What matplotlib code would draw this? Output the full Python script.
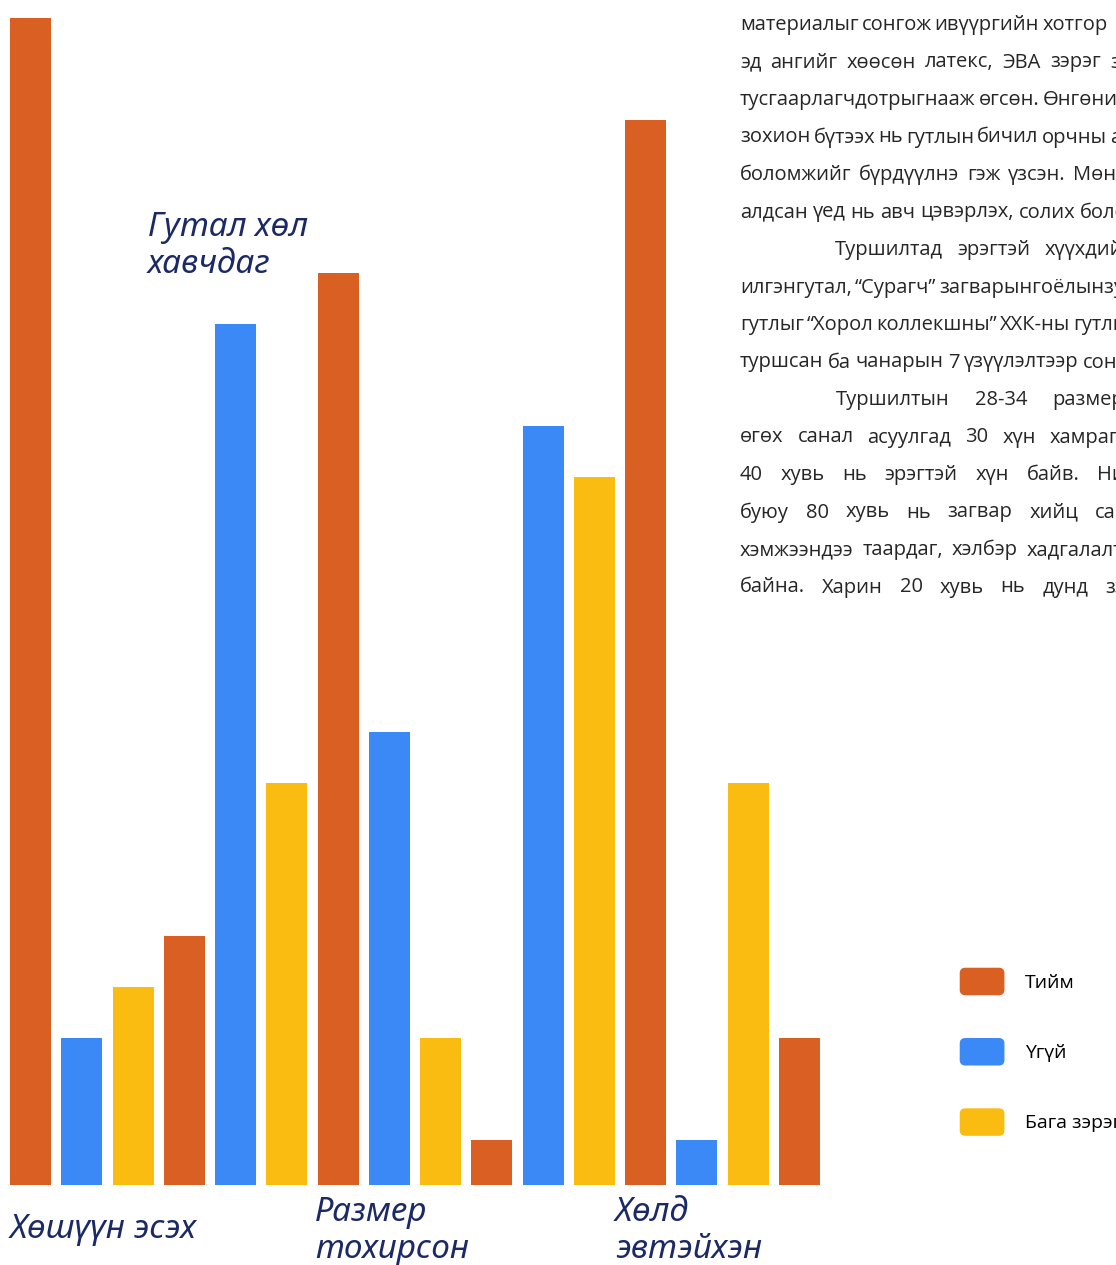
import numpy as np
import matplotlib.pyplot as plt
import matplotlib.transforms as mtransforms
from matplotlib.patches import Patch, FancyBboxPatch
from matplotlib.legend_handler import HandlerPatch

# survey answers, 30 people per question (last group cut off in the scan)
categories = ['Хөшүүн эсэх', 'Гутал хөл\nхавчдаг', 'Размер\nтохирсон', '', 'Хөлд\nэвтэйхэн', '']
tiim = [23, 5, 18, 1, 21, 3]
ugui = [3, 17, 9, 15, 1]
baga = [4, 8, 3, 14, 8]
legend_labels = ['Тийм', 'Үгүй', 'Бага зэрэг']

# body text of the page: words, left x, start x of the last word (pixels)
body_lines = [
    (['материалыг', 'сонгож', 'ивүүргийн', 'хотгор'], 740, 1033),
    (['эд', 'ангийг', 'хөөсөн', 'латекс,', 'ЭВА', 'зэрэг', 'зөөлөн'], 740, 1110),
    (['тусгаарлагчдотрыгнааж', 'өгсөн.', 'Өнгөний'], 740, 943),
    (['зохион', 'бүтээх', 'нь', 'гутлын', 'бичил', 'орчны', 'агаар'], 740, 1110),
    (['боломжийг', 'бүрдүүлнэ', 'гэж', 'үзсэн.', 'Мөн'], 740, 1073),
    (['алдсан', 'үед', 'нь', 'авч', 'цэвэрлэх,', 'солих', 'боломжтой.'], 740, 1080),
    (['Туршилтад', 'эрэгтэй', 'хүүхдийн'], 835, 1045),
    (['илгэнгутал,', '“Сурагч”', 'загварынгоёлынзуны'], 740, 933),
    (['гутлыг', '“Хорол', 'коллекшны”', 'ХХК-ны', 'гутлын'], 740, 1053),
    (['туршсан', 'ба', 'чанарын', '7', 'үзүүлэлтээр', 'сонгосон'], 740, 1083),
    (['Туршилтын', '28-34', 'размерийн'], 836, 1052),
    (['өгөх', 'санал', 'асуулгад', '30', 'хүн', 'хамрагдсан'], 740, 1050),
    (['40', 'хувь', 'нь', 'эрэгтэй', 'хүн', 'байв.', 'Нийт'], 740, 1097),
    (['буюу', '80', 'хувь', 'нь', 'загвар', 'хийц', 'сайн'], 740, 1095),
    (['хэмжээндээ', 'таардаг,', 'хэлбэр', 'хадгалалт'], 740, 1027),
    (['байна.', 'Харин', '20', 'хувь', 'нь', 'дунд', 'зэрэг'], 740, 1105),
]

orange = '#D95F22'
blue = '#3B88F7'
yellow = '#FBBC12'
navy = '#1B2A66'


class RoundBox(HandlerPatch):
    def create_artists(self, legend, orig_handle, xdescent, ydescent,
                       width, height, fontsize, trans):
        p = FancyBboxPatch((-xdescent, -ydescent), width, height,
                           boxstyle='round,pad=0,rounding_size=4',
                           facecolor=orig_handle.get_facecolor(),
                           edgecolor='none', transform=trans)
        return [p]


W, H = 1116, 1265
fig = plt.figure(figsize=(W / 100, H / 100), dpi=100)
ax = fig.add_axes([10 / W, (H - 1185) / H, 810 / W, 1185 / H])

x_t = np.arange(len(tiim)) * 3
x_u = np.arange(len(ugui)) * 3 + 1
x_b = np.arange(len(baga)) * 3 + 2
ax.bar(x_t, tiim, width=0.8, color=orange)
ax.bar(x_u, ugui, width=0.8, color=blue)
ax.bar(x_b, baga, width=0.8, color=yellow)
ax.set_xlim(-0.4, 15.4)
ax.set_ylim(0.12, 23.35)
ax.axis('off')

# category labels (scattered as in the original scan)
trans = mtransforms.blended_transform_factory(ax.transData, fig.transFigure)
lab_kw = dict(color=navy, style='italic', fontsize=24, family='Noto Sans',
              transform=trans, ha='left', clip_on=False, linespacing=1.15)
ax.text(-0.4, (H - 1238) / H, categories[0], va='baseline', **lab_kw)
ax.text(2.29, (H - 211) / H, categories[1], va='top', **lab_kw)
ax.text(5.55, (H - 1196) / H, categories[2], va='top', **lab_kw)
ax.text(11.4, (H - 1196) / H, categories[4], va='top', **lab_kw)

handles = [Patch(facecolor=c, edgecolor='none') for c in (orange, blue, yellow)]
fig.legend(handles, legend_labels, loc='upper left',
           bbox_to_anchor=(950 / W, (H - 958) / H), frameon=False,
           prop={'family': 'Open Sans', 'size': 14},
           handlelength=2.3, handleheight=1.8, labelspacing=2.2,
           handletextpad=1.05, borderpad=0,
           handler_map={Patch: RoundBox()})

# justified page text next to the chart
renderer = fig.canvas.get_renderer()
for i, (words, x0, x_last) in enumerate(body_lines):
    y = (H - 25 - i * 37.5) / H
    texts = [fig.text(0, y, w, fontsize=14.5, family='Open Sans', color='#262626',
                      va='center', ha='left') for w in words]
    widths = [t.get_window_extent(renderer).width for t in texts]
    gap = max((x_last - x0 - sum(widths[:-1])) / (len(words) - 1), 3)
    x = x0
    for t, w in zip(texts, widths):
        t.set_x(x / W)
        x += w + gap

fig.savefig('out.png', dpi=100, facecolor='white')
